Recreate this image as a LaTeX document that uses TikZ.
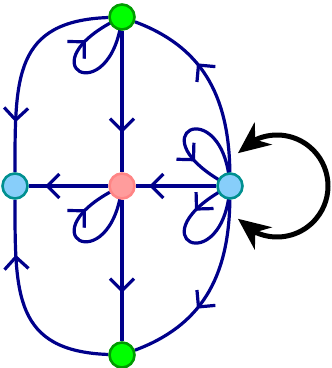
\documentclass[tikz,border=0pt]{standalone}
\usetikzlibrary{arrows.meta,decorations.markings,bending,backgrounds}
\definecolor{edgeblue}{HTML}{00008B}
\definecolor{greenfill}{HTML}{00FF00}
\definecolor{greenborder}{HTML}{009A00}
\definecolor{pinkfill}{HTML}{FF9C9C}
\definecolor{pinkborder}{HTML}{FF8585}
\definecolor{bluefill}{HTML}{87CEFA}
\definecolor{blueborder}{HTML}{009090}
\begin{document}
\begin{tikzpicture}[x=1pt,y=1pt,
  vtx/.style={circle, minimum size=25pt, inner sep=0pt, line width=2.6pt},
  greenv/.style={vtx, fill=greenfill, draw=greenborder},
  pinkv/.style={vtx, fill=pinkfill, draw=pinkborder},
  bluev/.style={vtx, fill=bluefill, draw=blueborder},
  conn/.style={draw=edgeblue, line width=3.2pt},
  barb/.style={postaction={decorate}, decoration={markings,
     mark=at position #1 with {\arrow[edgeblue]{Straight Barb[length=12pt,width=24pt,line width=3.2pt]}}}},
  bigarrow/.style={line width=5pt, {Stealth[length=32pt,width=28pt,inset=10pt,flex]}-{Stealth[length=32pt,width=28pt,inset=10pt,flex]}}
]
\useasboundingbox (0,0) rectangle (332,368);

\node[greenv] (top) at (122,351) {};
\node[greenv] (bot) at (122,13) {};
\node[pinkv] (mid) at (122,182) {};
\node[bluev] (lft) at (15,182) {};
\node[bluev] (rgt) at (230,182) {};

\begin{scope}[on background layer]
% straight edges
\draw[conn, barb=102pt] (top) -- (mid);
\draw[conn, barb=93pt] (mid) -- (bot);
\draw[conn, barb=63pt] (mid) -- (lft);
\draw[conn, barb=67pt] (rgt) -- (mid);

% curved edges
\draw[conn, barb=-50pt] (top) .. controls (14,347) and (15,290) .. (lft);
\draw[conn, barb=-55pt] (bot) .. controls (14,17) and (15,74) .. (lft);
\draw[conn, barb=116pt] (rgt) .. controls (229,275) and (200,322) .. (top);
\draw[conn, barb=116pt] (rgt) .. controls (229,89) and (200,42) .. (bot);

% loops
\draw[conn, barb=-43pt] (top.center) .. controls ([shift={(-11,-97)}]top.center) and ([shift={(-102,-48)}]top.center) .. (top.center);
\draw[conn, barb=-43pt] (mid.center) .. controls ([shift={(-11,-97)}]mid.center) and ([shift={(-102,-48)}]mid.center) .. (mid.center);
\draw[conn, barb=-43pt] (rgt.center) .. controls ([shift={(-6,97)}]rgt.center) and ([shift={(-100,52)}]rgt.center) .. (rgt.center);
\draw[conn, barb=43pt] (rgt.center) .. controls ([shift={(-100,-52)}]rgt.center) and ([shift={(-6,-97)}]rgt.center) .. (rgt.center);
\end{scope}

% black double arrow
\coordinate (rc) at (277,182);
\draw[bigarrow] ([shift={(140:51)}]rc) arc[start angle=140, end angle=-140, radius=51];
\end{tikzpicture}
\end{document}
